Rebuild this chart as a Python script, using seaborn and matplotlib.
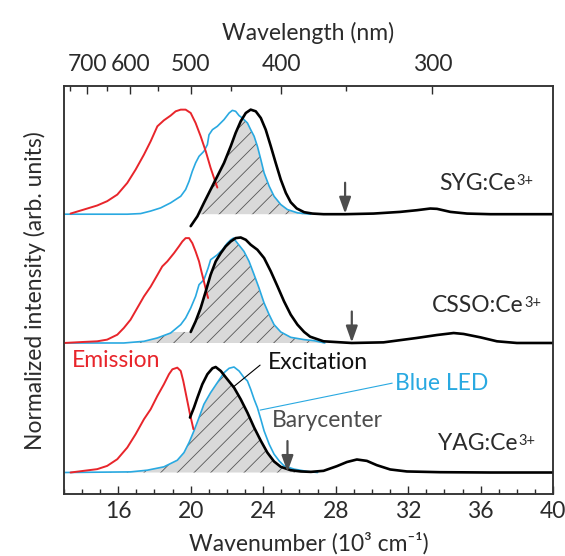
import numpy as np
import matplotlib
matplotlib.use("Agg")
import matplotlib.pyplot as plt
import seaborn as sns

# wavenumber in 10^3 cm-1, intensities normalized
samples = ["SYG:Ce", "CSSO:Ce", "YAG:Ce"]
charge = "3+"

syg_em_w = [13.37, 14.10, 14.84, 15.39, 15.95, 16.50, 16.96, 17.42, 17.79, 18.16, 18.52, 18.89, 19.17,
            19.45, 19.72, 20.00, 20.27, 20.55, 20.83, 21.10, 21.38, 21.47]
syg_em_i = [0.006, 0.044, 0.083, 0.124, 0.187, 0.298, 0.425, 0.568, 0.695, 0.838, 0.895, 0.940, 0.981,
            0.997, 0.997, 0.965, 0.870, 0.743, 0.600, 0.441, 0.298, 0.254]
syg_led_w = [13.0, 16.50, 17.24, 17.79, 18.34, 18.89, 19.45, 19.72, 19.91, 20.09, 20.27, 20.46, 20.73,
             20.92, 21.01, 21.20, 21.47, 21.84, 22.12, 22.30, 22.48, 22.67, 22.85, 23.13, 23.31, 23.50,
             23.68, 23.87, 24.05, 24.33, 24.60, 24.97, 25.34, 25.89, 26.63]
syg_led_i = [0.0, 0.0, 0.006, 0.030, 0.060, 0.108, 0.171, 0.235, 0.314, 0.410, 0.489, 0.552, 0.600,
             0.663, 0.757, 0.806, 0.838, 0.902, 0.965, 0.990, 0.981, 0.940, 0.917, 0.870, 0.806, 0.743,
             0.648, 0.521, 0.394, 0.267, 0.171, 0.092, 0.044, 0.013, 0.0]
syg_exc_w = [20.0, 20.37, 20.73, 21.10, 21.47, 21.84, 22.21, 22.48, 22.76, 23.04, 23.31, 23.59, 23.87,
             24.14, 24.42, 24.69, 24.97, 25.25, 25.52, 25.85, 26.26, 26.72, 27.33, 28.52, 30.09, 31.56,
             32.48, 33.22, 33.59, 34.33, 35.25, 36.54, 37.82, 40.0]
syg_exc_i = [-0.114, -0.02, 0.108, 0.235, 0.362, 0.489, 0.648, 0.775, 0.886, 0.965, 0.997, 0.981, 0.917,
             0.806, 0.648, 0.489, 0.330, 0.203, 0.114, 0.055, 0.019, 0.006, 0.0, 0.0, 0.006, 0.022,
             0.038, 0.054, 0.051, 0.022, 0.006, 0.0, 0.0, 0.0]

csso_em_w = [13.0, 14.10, 14.84, 15.39, 15.95, 16.31, 16.68, 17.05, 17.42, 17.79, 18.16, 18.43, 18.71,
             19.08, 19.35, 19.54, 19.72, 19.91, 20.09, 20.27, 20.46, 20.59, 20.73, 20.86, 20.96]
csso_em_i = [0.0, 0.010, 0.016, 0.032, 0.079, 0.143, 0.222, 0.333, 0.444, 0.537, 0.648, 0.730, 0.778,
             0.857, 0.921, 0.968, 1.0, 1.0, 0.952, 0.873, 0.778, 0.683, 0.587, 0.492, 0.429]
csso_led_w = [13.0, 16.31, 17.42, 18.16, 18.89, 19.45, 19.72, 20.0, 20.27, 20.46, 20.73, 20.96, 21.10,
              21.47, 21.75, 22.02, 22.21, 22.36, 22.58, 22.94, 23.22, 23.50, 23.77, 24.05, 24.33, 24.60,
              24.97, 25.52, 26.26, 26.81, 27.4]
csso_led_i = [0.0, 0.0, 0.016, 0.048, 0.095, 0.175, 0.238, 0.333, 0.444, 0.556, 0.603, 0.714, 0.794,
              0.841, 0.889, 0.952, 0.984, 1.0, 0.952, 0.873, 0.778, 0.651, 0.524, 0.381, 0.270, 0.175,
              0.105, 0.054, 0.032, 0.022, 0.0]
csso_exc_w = [20.0, 20.27, 20.55, 20.83, 21.10, 21.38, 21.66, 21.93, 22.21, 22.48, 22.76, 23.04, 23.31,
              23.68, 24.05, 24.42, 24.79, 25.15, 25.52, 25.89, 26.26, 26.59, 27.33, 28.89, 30.64, 32.48,
              33.59, 34.51, 35.06, 35.98, 36.9, 38.0, 40.0]
csso_exc_i = [0.105, 0.206, 0.333, 0.492, 0.651, 0.778, 0.857, 0.921, 0.968, 1.0, 1.006, 0.984, 0.937,
              0.889, 0.810, 0.683, 0.540, 0.397, 0.270, 0.175, 0.105, 0.060, 0.016, 0.0, 0.006, 0.048,
              0.076, 0.095, 0.086, 0.054, 0.016, 0.0, 0.0]

yag_em_w = [13.37, 14.10, 14.84, 15.39, 15.95, 16.50, 16.96, 17.42, 17.79, 18.16, 18.52, 18.80, 18.99,
            19.26, 19.45, 19.59, 19.72, 19.85, 19.96, 20.09, 20.15]
yag_em_i = [0.0, 0.016, 0.032, 0.063, 0.127, 0.238, 0.365, 0.508, 0.603, 0.730, 0.841, 0.937, 0.984,
            1.0, 0.968, 0.873, 0.762, 0.651, 0.556, 0.460, 0.413]
yag_led_w = [13.0, 16.68, 17.60, 18.52, 19.26, 19.63, 19.91, 20.18, 20.46, 20.73, 21.10, 21.47, 21.84,
             22.12, 22.39, 22.67, 22.94, 23.13, 23.31, 23.50, 23.68, 23.87, 24.05, 24.33, 24.60, 24.88,
             25.15, 25.71, 26.44, 27.0]
yag_led_i = [0.0, 0.006, 0.022, 0.054, 0.117, 0.190, 0.286, 0.397, 0.524, 0.651, 0.762, 0.857, 0.952,
             0.994, 1.006, 0.968, 0.905, 0.873, 0.794, 0.698, 0.619, 0.508, 0.397, 0.270, 0.175, 0.111,
             0.063, 0.032, 0.010, 0.0]
yag_exc_w = [19.96, 20.18, 20.37, 20.64, 20.92, 21.20, 21.38, 21.66, 22.02, 22.39, 22.76, 23.13, 23.50,
             23.87, 24.23, 24.60, 24.97, 25.52, 26.08, 26.63, 27.33, 28.06, 28.62, 29.17, 29.72, 30.27,
             31.01, 31.93, 33.77, 36.54, 40.0]
yag_exc_i = [0.524, 0.619, 0.714, 0.841, 0.937, 0.994, 1.006, 0.968, 0.889, 0.810, 0.698, 0.571, 0.429,
             0.302, 0.190, 0.105, 0.054, 0.022, 0.010, 0.006, 0.016, 0.060, 0.100, 0.124, 0.111, 0.070,
             0.029, 0.010, 0.003, 0.0, 0.0]

barycenters = [28.52, 28.89, 25.34]

wl_major = [700, 600, 500, 400, 300]
wl_minor = [750, 650, 550, 450, 350]

sns.set_theme(style="white")
plt.rcParams["font.family"] = ["Lato", "DejaVu Sans"]
plt.rcParams["hatch.color"] = "#555555"
plt.rcParams["hatch.linewidth"] = 0.6

RED = "#e8252b"
BLUE = "#29a9e1"
GRAY = "#4d4d4d"
TXT = "#2b2b2b"

fig = plt.figure(figsize=(5.65, 5.56), dpi=100)
ax = fig.add_axes([0.113, 0.1115, 0.866, 0.733])

offsets = [2.668, 1.44, 0.205]
data = [
    (syg_em_w, syg_em_i, syg_led_w, syg_led_i, syg_exc_w, syg_exc_i),
    (csso_em_w, csso_em_i, csso_led_w, csso_led_i, csso_exc_w, csso_exc_i),
    (yag_em_w, yag_em_i, yag_led_w, yag_led_i, yag_exc_w, yag_exc_i),
]

for k, (ew, ei, lw_, li, xw, xi) in enumerate(data):
    off = offsets[k]
    # overlap of LED and excitation -> hatched area
    grid = np.linspace(13.0, 28, 800)
    led_g = np.interp(grid, lw_, li)
    exc_g = np.interp(grid, xw, xi)
    ov = np.clip(np.minimum(led_g, exc_g), 0, None)
    ax.fill_between(grid, off, off + ov, facecolor="#d9d9d9", edgecolor="#555555",
                    hatch="//", linewidth=0, zorder=1)
    sns.lineplot(x=lw_, y=np.array(li) + off, ax=ax, color=BLUE, lw=1.2, zorder=2)
    sns.lineplot(x=ew, y=np.array(ei) + off, ax=ax, color=RED, lw=1.4, zorder=3)
    sns.lineplot(x=xw, y=np.array(xi) + off, ax=ax, color="black", lw=1.9, zorder=4)
    ax.annotate("", xy=(barycenters[k], off + 0.005), xytext=(barycenters[k], off + 0.3),
                arrowprops=dict(arrowstyle="-|>,head_length=0.7,head_width=0.25", color=GRAY, lw=1.6,
                                mutation_scale=14, shrinkA=0, shrinkB=0), zorder=5)

fs = 16.5
label_pos = [(37.95, 2.962), (38.39, 1.80), (38.06, 0.486)]
for name, (lx, ly) in zip(samples, label_pos):
    t = ax.text(lx, ly, name, ha="right", va="center", fontsize=fs, color=TXT)
    ax.annotate(charge, xy=(1.0, 0.93), xycoords=t, xytext=(0.5, 0), textcoords="offset points",
                ha="left", va="top", fontsize=10.5, color=TXT)

ax.text(13.44, 1.276, "Emission", ha="left", va="center", fontsize=fs, color=RED)
ax.text(24.27, 1.257, "Excitation", ha="left", va="center", fontsize=fs, color="#111111")
ax.plot([23.83, 22.34], [1.229, 1.019], color="black", lw=0.8, zorder=6)
ax.text(31.29, 1.057, "Blue LED", ha="left", va="center", fontsize=fs, color=BLUE)
ax.plot([31.12, 23.83], [1.057, 0.80], color=BLUE, lw=0.8, zorder=6)
ax.text(24.49, 0.705, "Barycenter", ha="left", va="center", fontsize=fs, color=GRAY)

ax.set_xlim(13, 40)
ax.set_ylim(0, 3.886)
ax.set_yticks([])
ax.set_xticks(range(16, 41, 4))
ax.set_xticks(range(13, 41), minor=True)
ax.tick_params(axis="x", which="both", direction="in", bottom=True, labelsize=fs, colors=TXT, pad=5)
ax.tick_params(axis="x", which="major", length=6, width=1)
ax.tick_params(axis="x", which="minor", length=3.5, width=1)
ax.set_xlabel("Wavenumber (10³ cm⁻¹)", fontsize=fs, color=TXT, labelpad=7)
ax.set_ylabel("Normalized intensity (arb. units)", fontsize=fs, color=TXT, labelpad=13)

ax2 = ax.twiny()
ax2.set_xlim(ax.get_xlim())
ax2.set_xticks([1e4 / w for w in wl_major])
ax2.set_xticklabels([str(w) for w in wl_major])
ax2.set_xticks([1e4 / w for w in wl_minor], minor=True)
ax2.tick_params(axis="x", which="both", direction="in", top=True, labelsize=fs, colors=TXT, pad=8)
ax2.tick_params(axis="x", which="major", length=6, width=1)
ax2.tick_params(axis="x", which="minor", length=3.5, width=1)
ax2.set_xlabel("Wavelength (nm)", fontsize=fs, color=TXT, labelpad=10)

for a in (ax, ax2):
    for s in a.spines.values():
        s.set_color("#333333")
        s.set_linewidth(1.1)

fig.savefig("out.png", dpi=100)
